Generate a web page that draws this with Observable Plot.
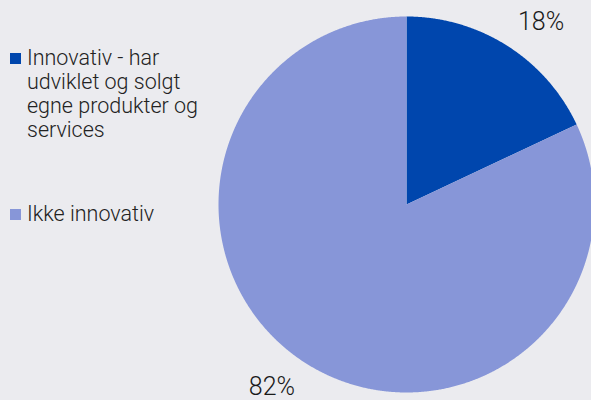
<!DOCTYPE html>
<html>
<head>
<meta charset="utf-8">
<script src="https://cdn.jsdelivr.net/npm/d3@7"></script>
<script src="https://cdn.jsdelivr.net/npm/@observablehq/plot@0.6"></script>
<style>
  html, body { margin: 0; padding: 0; background: #ebebef; }
  #wrap { position: relative; width: 591px; height: 400px; overflow: hidden; background: #ebebef; font-family: Roboto, sans-serif; }
  #chart { position: absolute; left: 0; top: 0; }
  .leg { position: absolute; left: 0; color: #222; font-size: 21.5px; font-weight: 300; line-height: 24px; }
  .sw { position: absolute; left: 10px; width: 11px; height: 11px; }
  .lt { position: absolute; left: 27px; white-space: nowrap; }
</style>
</head>
<body>
<div id="wrap">
  <div id="chart"></div>
  <div id="legend"></div>
</div>
<script>
const categories = ["Innovativ - har udviklet og solgt egne produkter og services", "Ikke innovativ"];
const legendLines = [["Innovativ - har", "udviklet og solgt", "egne produkter og", "services"], ["Ikke innovativ"]];
const shares = [18, 82];
const labels = ["18%", "82%"];
const colors = ["#0046ad", "#8796d8"];

const pie = d3.pie().sort(null).value(d => d)(shares);

// slice outlines (geometry from pie angles)
const slicePts = [];
pie.forEach((p, i) => {
  slicePts.push({i, x: 0, y: 0});
  const n = Math.max(2, Math.ceil((p.endAngle - p.startAngle) / 0.005));
  for (let k = 0; k <= n; k++) {
    const a = p.startAngle + (p.endAngle - p.startAngle) * k / n;
    slicePts.push({i, x: Math.sin(a), y: Math.cos(a)});
  }
  slicePts.push({i, x: 0, y: 0});
});

const labelPts = pie.map((p, i) => {
  const a = (p.startAngle + p.endAngle) / 2;
  const sx = Math.sin(a), sy = Math.cos(a);
  return {x: sx + Math.sign(sx) * 0.18, y: sy + Math.sign(sy) * 0.125, label: labels[i]};
});

const chart = Plot.plot({
  width: 591,
  height: 400,
  margin: 0,
  style: {background: "transparent", fontFamily: "Roboto, sans-serif"},
  x: {domain: [-1, 1], range: [218, 594], axis: null},
  y: {domain: [-1, 1], range: [392, 16], axis: null},
  color: {domain: [0, 1], range: colors, type: "ordinal"},
  marks: [
    Plot.line(slicePts, {x: "x", y: "y", z: "i", fill: d => colors[d.i], stroke: "none", curve: "linear"}),
    Plot.text(labelPts, {x: "x", y: "y", text: "label", fontSize: 25, fontWeight: 300, fill: "#1a1a1a"})
  ]
});
document.getElementById("chart").appendChild(chart);

// legend
const leg = document.getElementById("legend");
const tops = [46, 202];
categories.forEach((c, i) => {
  const g = document.createElement("div");
  g.className = "leg";
  g.style.top = tops[i] + "px";
  g.title = c;
  const sw = document.createElement("div");
  sw.className = "sw";
  sw.style.background = colors[i];
  sw.style.top = "7px";
  const t = document.createElement("div");
  t.className = "lt";
  t.innerHTML = legendLines[i].join("<br>");
  g.appendChild(sw);
  g.appendChild(t);
  leg.appendChild(g);
});
</script>
</body>
</html>
